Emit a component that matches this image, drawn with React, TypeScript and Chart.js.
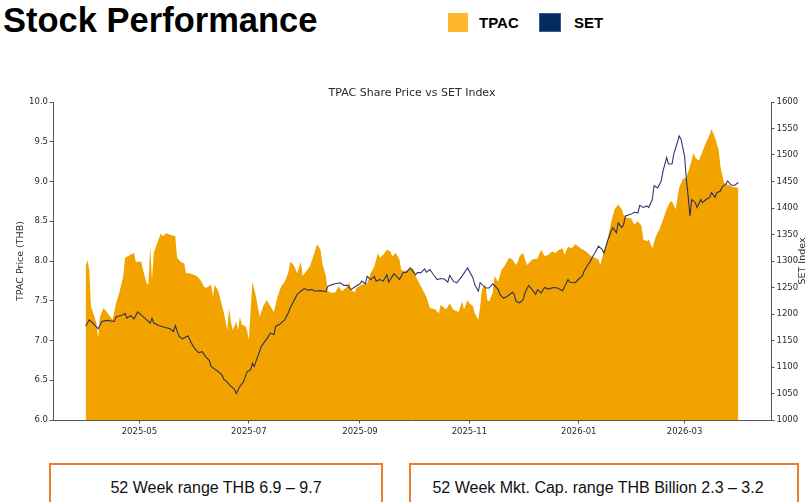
import React, { useEffect, useRef } from 'react';
import { Chart, registerables } from 'chart.js';

Chart.register(...registerables);

const START_DATE = '2025-04-01';
const tickDates = ['2025-05-01', '2025-07-01', '2025-09-01', '2025-11-01', '2026-01-01', '2026-03-01'];
const tickLabels = ['2025-05', '2025-07', '2025-09', '2025-11', '2026-01', '2026-03'];

// TPAC share price (THB); x = days since START_DATE
const tpacDays = [0, 1, 2, 3, 6, 7, 8, 10, 13, 15, 17, 19, 21, 22, 25, 27, 28, 31, 32, 34, 35, 36, 37, 38, 40, 42, 43, 45, 47, 50, 51, 53, 55, 56, 59, 62, 64, 66, 67, 70, 71, 72, 74, 75, 77, 79, 80, 81, 82, 84, 85, 86, 87, 89, 90, 91, 93, 95, 97, 99, 101, 103, 105, 107, 109, 111, 113, 114, 116, 118, 120, 121, 123, 125, 127, 129, 131, 132, 134, 135, 137, 139, 141, 143, 145, 146, 147, 148, 150, 151, 154, 157, 159, 161, 163, 164, 166, 168, 170, 171, 173, 175, 176, 178, 180, 182, 183, 184, 187, 190, 192, 195, 197, 198, 201, 203, 205, 208, 210, 211, 213, 214, 216, 217, 219, 220, 221, 223, 224, 225, 227, 228, 230, 232, 234, 236, 238, 240, 241, 242, 244, 246, 247, 249, 252, 254, 256, 258, 260, 262, 264, 266, 267, 269, 271, 273, 275, 276, 279, 282, 284, 286, 287, 289, 291, 293, 295, 297, 299, 300, 302, 304, 306, 308, 310, 311, 313, 314, 316, 318, 320, 322, 324, 326, 327, 329, 331, 333, 335, 337, 339, 340, 342, 344, 346, 348, 349, 351, 353, 354, 356, 358, 361, 364];
const tpacPrice = [7.93, 8.01, 7.89, 7.43, 7.22, 7.03, 7.30, 7.41, 7.32, 7.26, 7.47, 7.62, 7.81, 8.04, 8.08, 8.10, 7.99, 7.99, 7.89, 7.72, 7.70, 8.18, 7.76, 8.10, 8.23, 8.35, 8.31, 8.35, 8.33, 8.31, 8.04, 7.99, 7.97, 7.85, 7.84, 7.81, 7.76, 7.68, 7.66, 7.70, 7.55, 7.70, 7.62, 7.53, 7.36, 7.13, 7.41, 7.24, 7.13, 7.24, 7.13, 7.30, 7.20, 7.18, 7.13, 7.01, 7.74, 7.55, 7.30, 7.43, 7.51, 7.43, 7.36, 7.55, 7.68, 7.74, 7.85, 7.99, 7.95, 7.85, 7.99, 7.81, 7.87, 7.93, 8.06, 8.21, 8.14, 7.97, 7.81, 7.62, 7.60, 7.60, 7.68, 7.62, 7.66, 7.68, 7.74, 7.64, 7.60, 7.66, 7.70, 7.72, 7.85, 7.93, 8.10, 8.04, 8.08, 8.14, 8.12, 8.06, 8.10, 8.02, 7.89, 7.87, 7.89, 7.91, 7.89, 7.81, 7.68, 7.55, 7.41, 7.39, 7.34, 7.45, 7.39, 7.47, 7.39, 7.36, 7.49, 7.39, 7.51, 7.47, 7.43, 7.34, 7.26, 7.43, 7.64, 7.70, 7.51, 7.49, 7.60, 7.81, 7.74, 7.89, 7.95, 8.04, 8.02, 7.95, 7.99, 8.06, 8.10, 7.95, 7.97, 8.02, 8.03, 8.14, 8.06, 8.08, 8.12, 8.10, 8.14, 8.16, 8.08, 8.18, 8.16, 8.21, 8.18, 8.16, 8.12, 8.06, 8.04, 8.02, 7.95, 8.12, 8.27, 8.48, 8.65, 8.71, 8.65, 8.58, 8.54, 8.54, 8.46, 8.50, 8.44, 8.27, 8.25, 8.27, 8.16, 8.31, 8.40, 8.52, 8.65, 8.75, 8.75, 8.65, 8.92, 9.03, 9.05, 9.19, 9.36, 9.30, 9.26, 9.38, 9.49, 9.59, 9.66, 9.55, 9.40, 9.19, 8.98, 8.96, 8.93, 8.92];

// SET Index; x = days since START_DATE
const setDays = [0, 2, 4, 7, 9, 12, 16, 17, 20, 22, 23, 25, 27, 29, 32, 34, 36, 37, 38, 41, 44, 47, 49, 50, 52, 54, 57, 59, 61, 63, 65, 67, 69, 70, 72, 74, 76, 77, 79, 81, 83, 84, 86, 88, 90, 92, 93, 94, 96, 98, 101, 103, 105, 106, 108, 111, 113, 114, 116, 118, 120, 122, 124, 126, 128, 131, 134, 135, 137, 139, 142, 144, 146, 148, 150, 153, 154, 156, 157, 159, 161, 162, 164, 166, 168, 169, 171, 172, 175, 177, 179, 181, 184, 185, 187, 189, 190, 192, 194, 196, 198, 200, 202, 203, 205, 207, 210, 213, 216, 217, 219, 220, 223, 225, 227, 230, 231, 233, 235, 238, 239, 240, 242, 244, 245, 247, 249, 251, 252, 254, 256, 258, 261, 263, 266, 269, 270, 273, 275, 277, 278, 280, 281, 283, 284, 286, 288, 289, 291, 293, 294, 296, 297, 299, 300, 301, 304, 306, 308, 309, 311, 313, 314, 316, 317, 319, 321, 322, 324, 325, 327, 328, 330, 331, 332, 334, 335, 336, 337, 338, 340, 341, 343, 344, 346, 348, 349, 351, 352, 354, 355, 357, 358, 360, 362, 364];
const setIndex = [1177, 1189, 1183, 1172, 1186, 1188, 1186, 1195, 1197, 1201, 1192, 1197, 1191, 1204, 1195, 1189, 1183, 1192, 1183, 1178, 1175, 1172, 1167, 1178, 1158, 1153, 1159, 1145, 1134, 1127, 1129, 1119, 1112, 1101, 1096, 1091, 1085, 1077, 1071, 1064, 1058, 1050, 1063, 1072, 1091, 1095, 1107, 1101, 1120, 1139, 1153, 1164, 1161, 1177, 1180, 1189, 1202, 1211, 1224, 1237, 1243, 1248, 1245, 1246, 1243, 1244, 1242, 1252, 1255, 1257, 1259, 1254, 1254, 1246, 1251, 1257, 1262, 1257, 1271, 1265, 1271, 1262, 1265, 1262, 1274, 1260, 1271, 1276, 1265, 1278, 1279, 1287, 1274, 1278, 1278, 1285, 1279, 1284, 1274, 1265, 1267, 1266, 1260, 1273, 1262, 1259, 1272, 1287, 1268, 1255, 1243, 1259, 1249, 1249, 1257, 1247, 1237, 1230, 1233, 1241, 1237, 1224, 1221, 1227, 1240, 1254, 1246, 1237, 1246, 1240, 1250, 1247, 1250, 1249, 1244, 1265, 1260, 1259, 1266, 1272, 1281, 1293, 1297, 1310, 1315, 1328, 1322, 1315, 1337, 1356, 1363, 1353, 1372, 1363, 1369, 1385, 1388, 1392, 1391, 1405, 1401, 1404, 1401, 1416, 1442, 1438, 1451, 1470, 1495, 1483, 1483, 1502, 1524, 1536, 1530, 1498, 1454, 1423, 1385, 1416, 1410, 1401, 1416, 1410, 1416, 1420, 1429, 1420, 1429, 1432, 1440, 1445, 1451, 1443, 1443, 1448];

const priceMin = 6.0;
const priceMax = 10.0;
const priceStep = 0.5;
const setMin = 1000;
const setMax = 1600;
const setStep = 50;

const chartTitle = 'TPAC Share Price vs SET Index';
const leftAxisTitle = 'TPAC Price (THB)';
const rightAxisTitle = 'SET Index';

const dayOf = (d: string) => Math.round((Date.parse(d) - Date.parse(START_DATE)) / 86400000);

const FILL = '#F2A300';
const LINE = 'rgba(26,36,100,0.9)';
const AXIS = '#555';
const TXT = '#2a2a2a';
const MPL = '"DejaVu Sans", Verdana, sans-serif';

function StockChart() {
  const ref = useRef<HTMLCanvasElement | null>(null);
  useEffect(() => {
    const canvas = ref.current;
    if (!canvas) return;
    const first = tpacDays[0];
    const last = tpacDays[tpacDays.length - 1];
    const span = last - first;
    const tickDays = tickDates.map(dayOf);

    const textPlugin = {
      id: 'mplText',
      afterDraw(chart: any) {
        const { ctx, chartArea } = chart;
        const midY = (chartArea.top + chartArea.bottom) / 2;
        ctx.save();
        ctx.fillStyle = TXT;
        ctx.textAlign = 'center';
        ctx.textBaseline = 'middle';
        ctx.font = `11px ${MPL}`;
        ctx.fillText(chartTitle, (chartArea.left + chartArea.right) / 2, chartArea.top - 9);
        ctx.font = `9.5px ${MPL}`;
        ctx.save();
        ctx.translate(chartArea.left - 32.5, midY);
        ctx.rotate(-Math.PI / 2);
        ctx.fillText(leftAxisTitle, 0, 0);
        ctx.restore();
        ctx.save();
        ctx.translate(chartArea.right + 32, midY);
        ctx.rotate(-Math.PI / 2);
        ctx.fillText(rightAxisTitle, 0, 0);
        ctx.restore();
        ctx.restore();
      },
    };

    const tickFont = { family: MPL, size: 8.5 };
    const chart = new Chart(canvas, {
      type: 'line',
      data: {
        datasets: [
          {
            label: 'SET',
            data: setDays.map((d, i) => ({ x: d, y: setIndex[i] })),
            yAxisID: 'y2',
            borderColor: LINE,
            borderWidth: 1.1,
            pointRadius: 0,
            fill: false,
            tension: 0,
            order: 1,
          },
          {
            label: 'TPAC',
            data: tpacDays.map((d, i) => ({ x: d, y: tpacPrice[i] })),
            yAxisID: 'y',
            borderWidth: 0,
            borderColor: FILL,
            backgroundColor: FILL,
            pointRadius: 0,
            fill: 'start',
            tension: 0,
            order: 2,
          },
        ],
      },
      options: {
        responsive: false,
        animation: false,
        devicePixelRatio: 1,
        layout: { padding: { top: 42, left: 0, right: 0, bottom: 0 } },
        plugins: { legend: { display: false }, tooltip: { enabled: false }, title: { display: false } },
        scales: {
          x: {
            type: 'linear',
            position: 'bottom',
            min: first - span * 0.05,
            max: last + span * 0.05,
            afterBuildTicks: (s: any) => {
              s.ticks = tickDays.map((v) => ({ value: v }));
            },
            afterFit: (s: any) => {
              s.height = 40;
            },
            ticks: {
              autoSkip: false,
              maxRotation: 0,
              padding: 3,
              color: TXT,
              font: tickFont,
              callback: (v: any) => {
                const i = tickDays.indexOf(Number(v));
                return i >= 0 ? tickLabels[i] : '';
              },
            },
            grid: { drawOnChartArea: false, drawTicks: true, tickLength: 3.5, tickColor: AXIS, tickWidth: 1 },
            border: { display: true, color: AXIS, width: 1 },
          },
          y: {
            type: 'linear',
            position: 'left',
            min: priceMin,
            max: priceMax,
            afterFit: (s: any) => {
              s.width = 53;
            },
            ticks: {
              stepSize: priceStep,
              padding: 1.5,
              color: TXT,
              font: tickFont,
              callback: (v: any) => Number(v).toFixed(1),
            },
            grid: { drawOnChartArea: false, drawTicks: true, tickLength: 3.5, tickColor: AXIS, tickWidth: 1 },
            border: { display: true, color: AXIS, width: 1 },
          },
          y2: {
            type: 'linear',
            position: 'right',
            min: setMin,
            max: setMax,
            afterFit: (s: any) => {
              s.width = 37;
            },
            ticks: {
              stepSize: setStep,
              padding: 2,
              color: TXT,
              font: tickFont,
              callback: (v: any) => String(v),
            },
            grid: { drawOnChartArea: false, drawTicks: true, tickLength: 3.5, tickColor: AXIS, tickWidth: 1 },
            border: { display: true, color: AXIS, width: 1 },
          },
        },
      },
      plugins: [textPlugin],
    } as any);
    return () => chart.destroy();
  }, []);
  return <canvas ref={ref} width={808} height={400} style={{ position: 'absolute', left: 0, top: 60, width: 808, height: 400 }} />;
}

export default function App() {
  const sans = '"Liberation Sans", Arial, Helvetica, sans-serif';
  const box: React.CSSProperties = {
    position: 'absolute',
    top: 463,
    height: 60,
    border: '2px solid #ED7D31',
    boxSizing: 'border-box',
    fontFamily: sans,
    fontSize: 16,
    color: '#111',
    textAlign: 'center',
    lineHeight: '46px',
    whiteSpace: 'nowrap',
  };
  return (
    <div style={{ position: 'fixed', left: 0, top: 0, width: 808, height: 502, overflow: 'hidden', background: '#fff' }}>
      <div style={{ position: 'absolute', left: 3, top: 3, fontFamily: sans, fontWeight: 'bold', fontSize: 34.5, lineHeight: '35px', color: '#000', whiteSpace: 'nowrap' }}>
        Stock Performance
      </div>
      <div style={{ position: 'absolute', left: 448, top: 13, width: 20, height: 19, background: '#FDB82E' }} />
      <div style={{ position: 'absolute', left: 479, top: 13, fontFamily: sans, fontWeight: 'bold', fontSize: 15, lineHeight: '19px', color: '#000' }}>TPAC</div>
      <div style={{ position: 'absolute', left: 539, top: 13, width: 22, height: 19, background: '#062B5E', boxSizing: 'border-box', border: '1px solid #3B5B8C' }} />
      <div style={{ position: 'absolute', left: 574, top: 13, fontFamily: sans, fontWeight: 'bold', fontSize: 15, lineHeight: '19px', color: '#000' }}>SET</div>
      <StockChart />
      <div style={{ ...box, left: 49, width: 334 }}>52 Week range THB 6.9 – 9.7</div>
      <div style={{ ...box, left: 409, width: 390, paddingRight: 12 }}>52 Week Mkt. Cap. range THB Billion 2.3 – 3.2</div>
    </div>
  );
}
